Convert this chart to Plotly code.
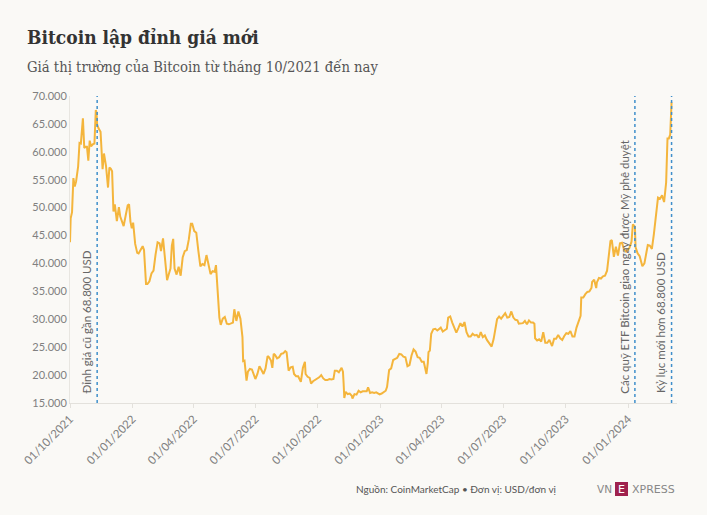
import plotly.graph_objects as go

dates = [
"2021-10-01","2021-10-02","2021-10-04","2021-10-06","2021-10-08","2021-10-10","2021-10-13","2021-10-15","2021-10-17","2021-10-20",
"2021-10-22","2021-10-24","2021-10-26","2021-10-28","2021-10-30","2021-11-01","2021-11-04","2021-11-06","2021-11-08","2021-11-09",
"2021-11-10","2021-11-12","2021-11-15","2021-11-16","2021-11-18","2021-11-20","2021-11-23","2021-11-26","2021-11-28","2021-11-30",
"2021-12-02","2021-12-04","2021-12-06","2021-12-09","2021-12-12","2021-12-14","2021-12-16","2021-12-19","2021-12-22","2021-12-25",
"2021-12-27","2021-12-29","2021-12-31",
"2022-01-02","2022-01-05","2022-01-08","2022-01-10","2022-01-13","2022-01-16","2022-01-18","2022-01-21","2022-01-23","2022-01-26",
"2022-01-29","2022-02-01","2022-02-04","2022-02-07","2022-02-10","2022-02-12","2022-02-15","2022-02-18","2022-02-21","2022-02-24",
"2022-02-26","2022-02-28","2022-03-02","2022-03-04","2022-03-07","2022-03-10","2022-03-13","2022-03-16","2022-03-19","2022-03-22",
"2022-03-25","2022-03-28","2022-03-30","2022-04-02","2022-04-05","2022-04-08","2022-04-11","2022-04-14","2022-04-17","2022-04-20",
"2022-04-23","2022-04-26","2022-04-29","2022-05-02","2022-05-04","2022-05-06","2022-05-09","2022-05-11","2022-05-14","2022-05-17",
"2022-05-20","2022-05-23","2022-05-26","2022-05-29","2022-05-31","2022-06-03","2022-06-06","2022-06-09","2022-06-12","2022-06-13",
"2022-06-15","2022-06-18","2022-06-20","2022-06-23","2022-06-26","2022-06-29","2022-07-01","2022-07-04","2022-07-07","2022-07-10",
"2022-07-13","2022-07-16","2022-07-19","2022-07-21","2022-07-24","2022-07-26","2022-07-28","2022-07-30","2022-08-02","2022-08-05",
"2022-08-08","2022-08-11","2022-08-14","2022-08-16","2022-08-19","2022-08-22","2022-08-25","2022-08-27","2022-08-30","2022-09-02",
"2022-09-06","2022-09-09","2022-09-12","2022-09-13","2022-09-16","2022-09-19","2022-09-21","2022-09-24","2022-09-27","2022-09-30",
"2022-10-03","2022-10-06","2022-10-09","2022-10-12","2022-10-15","2022-10-18","2022-10-21","2022-10-24","2022-10-26","2022-10-29",
"2022-11-01","2022-11-05","2022-11-07","2022-11-08","2022-11-09","2022-11-11","2022-11-14","2022-11-17","2022-11-20","2022-11-21",
"2022-11-24","2022-11-27","2022-11-30","2022-12-03","2022-12-06","2022-12-09","2022-12-12","2022-12-14","2022-12-17","2022-12-20",
"2022-12-23","2022-12-26","2022-12-29","2022-12-31",
"2023-01-03","2023-01-06","2023-01-09","2023-01-11","2023-01-13","2023-01-14","2023-01-17","2023-01-20","2023-01-23","2023-01-26",
"2023-01-29","2023-02-01","2023-02-04","2023-02-07","2023-02-10","2023-02-13","2023-02-16","2023-02-19","2023-02-22","2023-02-25",
"2023-02-28","2023-03-03","2023-03-06","2023-03-09","2023-03-10","2023-03-12","2023-03-13","2023-03-15","2023-03-17","2023-03-20",
"2023-03-23","2023-03-26","2023-03-29","2023-03-31","2023-04-03","2023-04-06","2023-04-09","2023-04-11","2023-04-14","2023-04-17",
"2023-04-20","2023-04-23","2023-04-26","2023-04-29","2023-05-02","2023-05-05","2023-05-08","2023-05-11","2023-05-14","2023-05-17",
"2023-05-20","2023-05-23","2023-05-26","2023-05-29","2023-06-01","2023-06-04","2023-06-07","2023-06-10","2023-06-14","2023-06-17",
"2023-06-20","2023-06-22","2023-06-25","2023-06-28","2023-07-01","2023-07-04","2023-07-07","2023-07-10","2023-07-13","2023-07-16",
"2023-07-19","2023-07-22","2023-07-24","2023-07-27","2023-07-30","2023-08-02","2023-08-05","2023-08-08","2023-08-11","2023-08-14",
"2023-08-16","2023-08-17","2023-08-20","2023-08-23","2023-08-26","2023-08-29","2023-09-01","2023-09-04","2023-09-07","2023-09-11",
"2023-09-14","2023-09-17","2023-09-20","2023-09-23","2023-09-26","2023-09-29","2023-10-02","2023-10-05","2023-10-08","2023-10-11",
"2023-10-14","2023-10-17","2023-10-20","2023-10-23","2023-10-24","2023-10-27","2023-10-30","2023-11-02","2023-11-05","2023-11-08",
"2023-11-09","2023-11-12","2023-11-15","2023-11-16","2023-11-19","2023-11-22","2023-11-25","2023-11-28","2023-12-01","2023-12-04",
"2023-12-06","2023-12-08","2023-12-11","2023-12-14","2023-12-17","2023-12-20","2023-12-23","2023-12-26","2023-12-29","2023-12-31",
"2024-01-03","2024-01-06","2024-01-08","2024-01-11","2024-01-12","2024-01-15","2024-01-18","2024-01-22","2024-01-25","2024-01-28",
"2024-01-30","2024-02-02","2024-02-05","2024-02-08","2024-02-11","2024-02-14","2024-02-17","2024-02-20","2024-02-23","2024-02-26",
"2024-02-28","2024-03-01","2024-03-03","2024-03-04","2024-03-05",
]

prices = [
43800,48100,49200,55300,53800,54700,57400,61600,61500,66000,
60700,60900,60900,58400,62000,61000,61400,61500,67500,67000,
64900,64200,63600,60300,56900,59700,57500,53600,57200,57000,
56500,49300,50600,47600,50100,48400,47600,46700,48600,50400,
50600,47500,46300,
47300,43500,41900,41800,42600,43100,42400,36300,36300,36800,
38200,38700,41600,43800,43600,42200,44500,40000,37000,38300,
39100,43200,44400,39100,38000,39400,37800,41100,42200,42400,
44300,47100,47100,45800,45500,42300,39500,39900,39700,41500,
39500,38100,38600,38500,39700,36000,30300,29000,30100,30400,
29200,29100,29300,29400,31800,29700,31400,30100,26800,22500,
22600,19000,20600,21100,21000,20100,19300,20200,21600,20900,
20200,21200,23400,23200,22600,21300,23800,23600,23000,23200,
23800,23900,24300,24100,20800,21400,21500,20200,19800,19800,
18800,21300,22400,20200,19700,19500,18500,18900,19100,19400,
19600,20000,19400,19100,19100,19300,19200,19300,20800,20800,
20500,21300,20600,18500,15900,17000,16600,16700,16300,15800,
16600,16500,17200,16900,17100,17100,17100,17800,16800,16900,
16800,16900,16600,16550,
16700,16900,17200,17900,19900,20900,21200,22700,22900,23100,
23800,23700,23300,23200,21600,21800,23500,24600,24200,23200,
23100,22400,22400,20400,20200,22200,24100,24400,27400,28200,
28300,28000,28300,28500,27800,28000,28300,30300,30500,29400,
28300,27600,28400,29300,28700,29500,27700,26900,26900,27400,
27100,27200,26700,27700,26800,27100,26300,25800,25100,26500,
28300,30000,30500,30100,30600,31100,30300,30400,31400,30300,
29900,29800,29200,29300,29300,29700,29100,29800,29400,29400,
29200,26600,26200,26400,26000,27700,25800,25800,26300,25200,
26500,26500,27200,26600,26300,27000,27500,27400,27900,26900,
26900,28500,29700,30600,33900,33900,34500,34900,35000,35600,
36700,37100,35600,36600,37400,37300,37700,37800,38700,42000,
44000,44200,41200,43000,41400,43600,43700,42500,42100,42300,
42800,43900,47000,46600,42900,41800,41300,39500,40000,42000,
43300,43200,42600,45300,48300,51800,51600,52200,51000,54500,
62400,62400,63100,68300,68900,
]

tick_dates = ["2021-10-01","2022-01-01","2022-04-01","2022-07-01","2022-10-01",
              "2023-01-01","2023-04-01","2023-07-01","2023-10-01","2024-01-01"]
tick_labels = ["01/10/2021","01/01/2022","01/04/2022","01/07/2022","01/10/2022",
               "01/01/2023","01/04/2023","01/07/2023","01/10/2023","01/01/2024"]

event_dates = ["2021-11-10","2024-01-11","2024-03-05"]
event_texts = ["Đỉnh giá cũ gần 68.800 USD",
               "Các quỹ ETF Bitcoin giao ngay được Mỹ phê duyệt",
               "Kỷ lục mới hơn 68.800 USD"]

y_ticks = [15000,20000,25000,30000,35000,40000,45000,50000,55000,60000,65000,70000]

BG = "#FAF9F6"
W, H = 707, 515
ML, MR, MT, MB = 70, 30, 96, 112

fig = go.Figure()
fig.add_trace(go.Scatter(x=dates, y=prices, mode="lines",
                         line=dict(color="#F4B53C", width=2), hoverinfo="x+y"))

for d, t in zip(event_dates, event_texts):
    fig.add_shape(type="line", xref="x", yref="paper", x0=d, x1=d, y0=0, y1=1,
                  line=dict(color="#3F8FCB", width=1.5, dash="dot"))
    fig.add_annotation(x=d, xref="x", y=0.025, yref="paper", text=t, textangle=-90,
                       showarrow=False, xanchor="right", yanchor="bottom", xshift=-2,
                       font=dict(family="Lato, Noto Sans, sans-serif", size=11.5, color="#666"))

fig.update_layout(
    width=W, height=H,
    paper_bgcolor=BG, plot_bgcolor=BG,
    separators=",.",
    margin=dict(l=ML, r=MR, t=MT, b=MB, autoexpand=False),
    showlegend=False,
    font=dict(family="Lato, Noto Sans, sans-serif", color="#777"),
    xaxis=dict(range=["2021-10-01", "2024-03-13"], tickvals=tick_dates, ticktext=tick_labels,
               tickangle=-45, showgrid=False, zeroline=False, showline=True,
               linecolor="#E3E1DC", linewidth=1, ticks="outside", ticklen=4,
               tickcolor="#E3E1DC", tickfont=dict(size=11.5, color="#808080")),
    yaxis=dict(range=[15000, 70000], tickvals=y_ticks, tickformat=",d",
               showgrid=False, zeroline=False, showline=True, linecolor="#E8E6E1",
               linewidth=1, ticks="", tickfont=dict(size=11, color="#808080")),
)

def pix_x(px):
    return (px - ML) / (W - ML - MR)
def pix_y(py):
    return (H - MB - py) / (H - MT - MB)

fig.add_annotation(x=pix_x(25), y=pix_y(50), xref="paper", yref="paper",
                   text="<b>Bitcoin lập đỉnh giá mới</b>", showarrow=False,
                   xanchor="left", yanchor="bottom",
                   font=dict(family="DejaVu Serif Condensed, DejaVu Serif, serif", size=19, color="#333"))
fig.add_annotation(x=pix_x(25), y=pix_y(77), xref="paper", yref="paper",
                   text="Giá thị trường của Bitcoin từ tháng 10/2021 đến nay", showarrow=False,
                   xanchor="left", yanchor="bottom",
                   font=dict(family="DejaVu Serif Condensed, DejaVu Serif, serif", size=14.7, color="#555"))
fig.add_annotation(x=pix_x(558), y=pix_y(489), xref="paper", yref="paper",
                   text="Nguồn: CoinMarketCap • Đơn vị: USD/đơn vị", showarrow=False,
                   xanchor="right", yanchor="middle",
                   font=dict(family="Lato, Noto Sans, sans-serif", size=10, color="#555"))
fig.add_annotation(x=pix_x(614), y=pix_y(489), xref="paper", yref="paper",
                   text="VN", showarrow=False, xanchor="right", yanchor="middle",
                   font=dict(family="DejaVu Sans, sans-serif", size=10.5, color="#888"))
fig.add_shape(type="rect", xref="paper", yref="paper",
              x0=pix_x(615), x1=pix_x(628), y0=pix_y(496), y1=pix_y(482),
              fillcolor="#9F224E", line=dict(width=0))
fig.add_annotation(x=pix_x(621.5), y=pix_y(489), xref="paper", yref="paper",
                   text="E", showarrow=False, xanchor="center", yanchor="middle",
                   font=dict(family="DejaVu Sans, sans-serif", size=11, color="#FFFFFF"))
fig.add_annotation(x=pix_x(630), y=pix_y(489), xref="paper", yref="paper",
                   text="XPRESS", showarrow=False, xanchor="left", yanchor="middle",
                   font=dict(family="DejaVu Sans, sans-serif", size=11, color="#888"))

fig.write_html("out.html", config={"displayModeBar": False},
               post_script="document.body.style.margin='0';document.body.style.background='#FAF9F6';")
